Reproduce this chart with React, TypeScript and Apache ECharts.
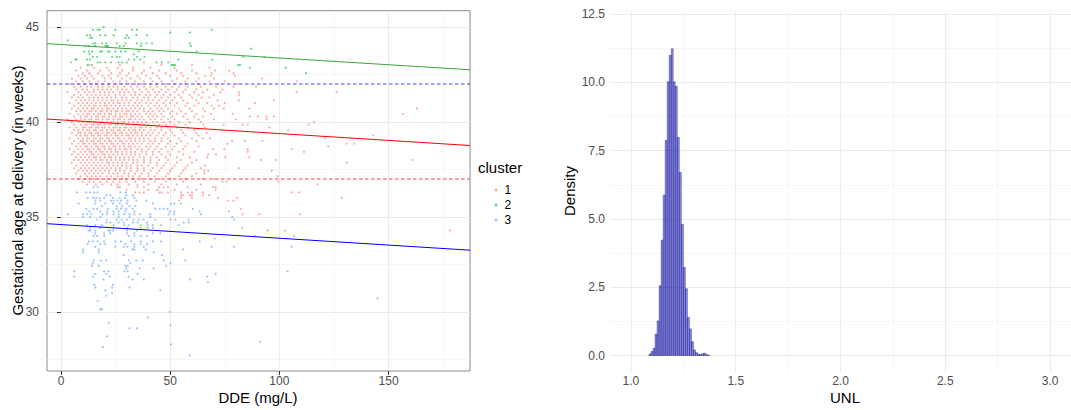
import React, { useEffect, useRef } from "react";
import * as echarts from "echarts";

const FONT = '"Liberation Sans", Arial, Helvetica, sans-serif';

// ---------- Left panel data: [gestational age (weeks), DDE values (mg/L)] ----------
const cluster1Rows: [number, number[]][] = [
  [43.14, [4.6, 38]],
  [43.0, [13, 27, 46, 60]],
  [42.86, [9, 15, 21, 26, 33, 41, 52, 68]],
  [42.71, [7, 12, 18, 22, 28, 33, 38, 45, 53, 60, 70.5, 77]],
  [42.57, [10, 13, 17, 23, 27, 31, 37, 42, 48, 55, 62, 69, 79]],
  [42.43, [8, 11, 14, 19, 22, 26, 30, 35, 39, 44, 50, 56, 66, 68.7, 79.7]],
  [42.29, [5, 9, 12, 15, 20, 23, 28, 32, 36, 41, 45, 53, 58, 63, 70, 92]],
  [42.14, [7, 10, 13, 17, 20, 24, 27, 30, 34, 38, 42, 46, 51, 57, 62, 68, 75, 108]],
  [42.0, [4, 8, 11, 14, 16, 19, 22, 25, 28, 31, 34, 37, 41, 44, 48, 52, 57, 63, 72, 81]],
  [41.86, [6, 9, 12, 14, 17, 19, 22, 24, 26, 29, 32, 35, 38, 41, 44, 48, 51, 54, 58, 64, 71, 79, 89.3]],
  [41.71, [7, 10, 12, 15, 17, 19, 21, 23, 26, 28, 30, 33, 36, 39, 42, 46, 49, 53, 57, 62, 67, 74]],
  [41.57, [3, 8, 11, 13, 15, 18, 20, 22, 24, 27, 29, 31, 34, 37, 40, 43, 45, 48, 52, 56, 61, 65, 73, 81.5, 107.9, 126.2]],
  [41.43, [6, 9, 12, 14, 16, 18, 20, 22, 25, 27, 29, 32, 34, 36, 39, 41, 44, 47, 50, 54, 59, 63, 70, 81.5]],
  [41.29, [5, 8, 10, 13, 15, 17, 19, 21, 23, 25, 28, 30, 33, 35, 38, 40, 43, 46, 49, 52, 55, 60, 64.4, 68]],
  [41.14, [7, 9, 11, 13, 15, 17, 19, 21, 23, 24, 26, 28, 30, 32, 35, 37, 40, 42, 45, 48, 51, 56, 62, 71.7, 81.5, 97.5]],
  [41.0, [4, 8, 10, 12, 14, 16, 18, 20, 22, 24, 26, 27, 29, 31, 34, 36, 39, 41, 44, 47, 50, 53, 58, 63, 67, 75, 88.8]],
  [40.86, [6, 9, 11, 13, 15, 16, 18, 20, 21, 23, 25, 27, 29, 31, 33, 35, 37, 40, 43, 45, 48, 52, 57, 61, 69, 72.3]],
  [40.71, [5, 8, 10, 12, 14, 15, 17, 19, 21, 22, 24, 26, 28, 30, 32, 34, 36, 38, 41, 44, 46, 49, 54, 59, 65, 70, 74.6, 86.2, 162.9]],
  [40.57, [7, 9, 11, 13, 14, 16, 18, 19, 21, 23, 25, 26, 28, 30, 31, 33, 35, 38, 40, 42, 45, 47, 51, 55, 60, 66]],
  [40.43, [4, 8, 10, 12, 13, 15, 17, 18, 20, 22, 23, 25, 27, 29, 30, 32, 34, 36, 39, 41, 43, 46, 50, 53, 57, 62, 68.7, 78.6, 156.6]],
  [40.29, [6, 9, 11, 12, 14, 16, 17, 19, 20, 22, 24, 25, 27, 28, 30, 32, 33, 35, 37, 40, 42, 44, 47, 51, 56, 61, 65, 86.5, 90.2, 94.2, 97.5]],
  [40.14, [3, 7, 9, 11, 13, 14, 16, 17, 19, 21, 22, 24, 26, 27, 29, 31, 32, 34, 36, 38, 41, 43, 46, 49, 52, 58, 63, 70, 80.1, 94.2]],
  [40.0, [5, 8, 10, 12, 13, 15, 16, 18, 19, 21, 23, 24, 26, 28, 29, 31, 33, 35, 37, 39, 42, 44, 47, 50, 54, 59, 64, 116]],
  [39.86, [6, 9, 11, 12, 14, 15, 17, 18, 20, 22, 23, 25, 26, 28, 30, 31, 33, 35, 36, 38, 40, 43, 45, 48, 52, 57, 65.2, 74.5, 83.2, 85.5, 113.4]],
  [39.71, [4, 7, 10, 11, 13, 14, 16, 17, 19, 20, 22, 24, 25, 27, 29, 30, 32, 34, 36, 37, 39, 41, 44, 46, 49, 53, 58, 66, 95.4]],
  [39.57, [6, 8, 10, 12, 13, 15, 16, 18, 19, 21, 23, 24, 26, 27, 29, 31, 33, 34, 36, 38, 41, 43, 46, 50, 55, 61, 104]],
  [39.43, [5, 8, 9, 11, 13, 14, 16, 17, 19, 21, 22, 24, 25, 27, 28, 30, 32, 34, 35, 37, 40, 42, 45, 48, 51, 56, 62, 66.7]],
  [39.29, [7, 9, 11, 12, 14, 15, 17, 18, 20, 21, 23, 25, 26, 28, 30, 31, 33, 35, 37, 39, 41, 44, 47, 52, 57, 63, 143]],
  [39.14, [4, 8, 10, 12, 13, 15, 16, 18, 19, 21, 22, 24, 26, 27, 29, 31, 32, 34, 36, 38, 40, 43, 46, 49, 54, 60, 64.9, 68.2, 120.9]],
  [39.0, [6, 9, 10, 12, 14, 15, 17, 18, 20, 22, 23, 25, 27, 28, 30, 32, 34, 36, 38, 41, 43, 46, 50, 55, 62, 78.3, 84.1, 92.2]],
  [38.86, [5, 8, 10, 11, 13, 15, 16, 18, 19, 21, 23, 24, 26, 28, 29, 31, 33, 35, 37, 40, 42, 45, 49, 53, 58, 76.3, 130.8, 134.2]],
  [38.71, [7, 9, 11, 12, 14, 16, 17, 19, 20, 22, 24, 25, 27, 29, 31, 32, 34, 36, 39, 41, 44, 48, 52, 57, 63, 122.4]],
  [38.57, [4, 8, 10, 12, 13, 15, 17, 18, 20, 22, 23, 25, 27, 29, 30, 32, 35, 37, 40, 43, 46, 51, 56, 69.7, 74.8, 85.5, 105.6]],
  [38.43, [6, 9, 11, 13, 14, 16, 18, 19, 21, 23, 25, 26, 28, 30, 32, 34, 37, 39, 42, 45, 49, 54, 61, 85.5, 111.3]],
  [38.29, [5, 8, 10, 12, 14, 15, 17, 19, 20, 22, 24, 26, 28, 30, 32, 34, 36, 39, 42, 46, 50, 56, 67.4, 71]],
  [38.14, [7, 9, 11, 13, 15, 16, 18, 20, 22, 23, 25, 27, 29, 31, 33, 36, 38, 41, 44, 48, 53, 59, 67, 75.2, 86.2]],
  [38.0, [6, 8, 10, 12, 14, 16, 18, 19, 21, 23, 25, 27, 29, 31, 33, 35, 38, 41, 45, 49, 55, 62, 91.6, 98.4, 161]],
  [37.86, [5, 9, 11, 13, 15, 17, 19, 21, 22, 24, 26, 28, 30, 33, 35, 38, 41, 44, 48, 53, 60, 130.8]],
  [37.71, [7, 10, 12, 14, 16, 18, 20, 22, 24, 26, 28, 30, 32, 35, 37, 40, 44, 47, 52, 58, 66]],
  [37.57, [6, 9, 11, 13, 15, 17, 19, 21, 23, 25, 27, 30, 32, 35, 38, 42, 46, 51, 57, 64, 81.5]],
  [37.43, [8, 10, 12, 14, 16, 18, 20, 22, 25, 27, 29, 32, 35, 38, 41, 45, 50, 56, 65.6, 67.4, 96.5]],
  [37.29, [7, 11, 13, 15, 17, 19, 22, 24, 26, 29, 31, 34, 37, 40, 44, 49, 55, 62, 65.6]],
  [37.14, [9, 12, 14, 16, 18, 21, 23, 26, 28, 31, 33, 36, 40, 43, 48, 54, 60, 99.2]],
  [37.0, [8, 11, 13, 15, 17, 20, 22, 25, 28, 30, 33, 37, 41, 45, 50, 57, 65, 70]],
  [36.86, [10, 13, 15, 18, 21, 24, 27, 30, 34, 38, 43, 48, 56, 74, 75.9, 99.5]],
  [36.71, [12, 16, 19, 23, 26, 31, 35, 40, 46, 53, 64, 117.5]],
  [36.57, [26, 27, 35, 38, 45, 47, 49, 58, 69.7, 70.8]],
  [36.43, [30, 40, 44, 52, 62, 70.8]],
  [36.29, [34, 36, 38, 45, 46, 49, 55, 58, 60, 65, 105.6, 109]],
  [36.14, [55, 56, 59, 60, 64.9, 67.9]],
  [36.0, [55, 60, 72, 80.7, 128.5]],
  [35.86, [54, 76.6, 78.9]],
  [35.43, [82.4]],
  [35.29, [76.9]],
  [35.14, [83.2, 90.8, 109.4]],
  [34.29, [178.1]],
];

const cluster2Rows: [number, number[]][] = [
  [45.0, [19.5]],
  [44.86, [14.7, 16.8, 17.7, 24.9, 32.5, 34.8, 69.0]],
  [44.71, [50, 59.1]],
  [44.57, [11.9, 13.4, 18.0, 20.3, 24.1, 30.2, 34.5, 39.4]],
  [44.43, [13.4, 14.2, 29.5, 31.0]],
  [44.29, [3.1]],
  [44.14, [14.9, 15.7, 18.8, 20.8, 25.6, 29.5, 34.8, 36.8, 39.1, 41.7, 59.1]],
  [44.0, [11.1, 12.7, 15.7, 20.3, 21.1, 21.4, 26.9, 28.7, 36.6, 59.5]],
  [43.86, [87.0]],
  [43.71, [10.7, 12.7, 14.2, 18.0, 18.8, 21.4, 22.3, 24.9, 27.5, 29.5, 35.6, 62.1]],
  [43.57, [13.1, 33.3]],
  [43.43, [14.6, 16.5, 23.4, 25.6, 26.9, 34.8, 38.2, 83.5, 93.1]],
  [43.29, [6.6, 7.1, 11.9, 13.4, 31.0, 33.6, 36.3, 53.7, 69.3]],
  [43.14, [16.8, 18.0, 20.3, 22.9, 26.4, 27.9, 30.2, 43.8, 46.1, 49.1]],
  [43.0, [12.2, 14.2, 50.8, 51.4, 52.2, 81.2, 82.0]],
  [42.86, [86.5, 102.9]],
  [42.57, [112.2]],
];

const cluster3Rows: [number, number[]][] = [
  [36.57, [14.9, 16.8]],
  [36.29, [7.3, 11.6, 13.4, 15.3, 16.8, 27.2, 29.6]],
  [36.14, [20.8, 22.6, 29.9, 32.9]],
  [36.0, [12.2, 14.9, 16.2, 17.7, 19.8, 23.8, 26.9, 29.3, 33.6]],
  [35.86, [15.7, 18.0, 22.9, 24.1, 25.9, 27.5, 30.5, 34.5, 39.1]],
  [35.71, [8.1, 15.7, 20.3, 23.8, 26.9, 30.2, 42.1, 50.4, 51.9, 54.9]],
  [35.57, [18.8, 25.6, 27.9, 31.4, 34.0]],
  [35.43, [11.6, 14.9, 16.5, 21.4, 25.6, 27.5, 29.9, 32.9, 43.2, 45.2, 47.0, 48.8, 60.4]],
  [35.29, [13.1, 18.0, 21.1, 24.1, 26.4, 29.5, 33.6, 49.8, 51.9, 63.5]],
  [35.14, [3.1, 10.1, 11.9, 13.9, 18.9, 21.1, 24.1, 26.4, 29.0, 31.4, 33.6, 36.3, 40.9, 49.3, 51.9, 64.1]],
  [35.0, [10.1, 13.4, 18.0, 26.4, 31.4, 40.9, 78.4]],
  [34.86, [16.5, 21.1, 25.6, 27.9, 30.2, 33.3, 35.6, 37.9, 43.2, 50.1, 52.4, 58.5, 79.2]],
  [34.71, [20.8, 22.6, 26.4, 28.7, 32.9, 35.1, 39.4, 56.2, 58.5]],
  [34.57, [11.9, 15.7, 18.8, 24.1, 29.0, 31.0, 36.6, 39.7, 42.1, 45.8, 53.9]],
  [34.43, [13.4, 18.0, 24.1, 30.2, 36.6, 39.7, 42.1, 83.0]],
  [34.29, [12.7, 13.4, 15.7, 21.8, 22.6, 23.8, 30.2, 34.8, 94.6, 102.6]],
  [34.14, [15.7, 19.8, 22.6, 30.2, 33.6, 42.1, 45.5]],
  [34.0, [14.9, 16.5, 19.8, 31.0, 33.6, 36.6, 39.4, 88.8, 106.8]],
  [33.86, [70.4]],
  [33.71, [12.7, 14.6, 16.8, 19.8, 24.9, 27.5, 32.1, 36.6, 42.1, 45.8, 63.5]],
  [33.57, [12.2, 18.0, 20.3, 29.5, 33.6, 36.6, 39.4]],
  [33.43, [15.7, 24.9, 28.7, 30.5, 33.6, 37.9, 69.0, 79.2, 105.6]],
  [33.29, [10.1, 17.3, 32.8, 33.6, 38.8, 55.9]],
  [33.14, [10.1, 17.3, 42.4]],
  [33.0, [28.7, 46.2]],
  [32.71, [14.9, 18.3, 20.8, 31.0, 34.5, 37.5, 47.0, 56.9]],
  [32.57, [14.6, 31.8, 50.1]],
  [32.43, [14.2, 17.3, 29.5, 30.5, 48.2]],
  [32.29, [29.9, 36.0, 42.4]],
  [32.14, [6.1, 19.8, 21.8, 29.0, 30.5, 103.8]],
  [32.0, [15.7, 20.8, 35.1, 70.8]],
  [31.86, [6.1, 14.6, 22.3, 31.0, 67.0]],
  [31.71, [19.5, 32.9, 37.9, 59.2]],
  [31.57, [67.3]],
  [31.43, [15.3, 23.8]],
  [31.29, [15.7, 23.4, 31.4]],
  [31.14, [20.3, 45.5]],
  [31.0, [23.4]],
  [30.86, [20.8]],
  [30.71, [145.0]],
  [30.57, [16.8]],
  [30.14, [18.0, 18.8]],
  [30.0, [49.8]],
  [29.71, [39.7]],
  [29.43, [21.8]],
  [29.29, [50.1]],
  [29.14, [31.4, 34.8]],
  [28.71, [21.1]],
  [28.43, [91.3]],
  [28.29, [50.4]],
  [28.14, [19.2]],
  [27.71, [58.9]],
];

const clusterNames = ["1", "2", "3"];
const clusterColors = ["#F8766D", "#00BA38", "#619CFF"];
// fitted regression lines per cluster: intercept, slope
const fitIntercepts = [40.11, 44.08, 34.6];
const fitSlopes = [-0.0072, -0.0071, -0.0072];
const fitColors = ["#FF0000", "#3AA53A", "#0000FF"];
// horizontal dashed reference lines
const refLevels = [42, 37];
const refColors = ["rgba(0,0,255,0.5)", "rgba(255,0,0,0.5)"];

const leftXTicks = [0, 50, 100, 150];
const leftXMinor = [25, 75, 125, 175];
const leftYTicks = [30, 35, 40, 45];
const leftYMinor = [27.5, 32.5, 37.5, 42.5];

// ---------- Right panel: UNL histogram (density) ----------
const unlBinStart = 1.0858;
const unlBinWidth = 0.00967;
const unlDensity = [
  0.06, 0.15, 0.27, 0.79, 1.27, 2.56, 4.23, 5.87, 7.88, 10.02,
  10.99, 11.23, 10.02, 9.86, 7.98, 6.7, 4.8, 3.23, 2.45, 1.4,
  0.98, 0.51, 0.21, 0.11, 0.06, 0.04, 0.07, 0.09, 0.04, 0.02,
];
const rightXTicks = [1.0, 1.5, 2.0, 2.5, 3.0];
const rightXMinor = [1.25, 1.75, 2.25, 2.75];
const rightYTicks = [0, 2.5, 5, 7.5, 10, 12.5];
const rightYMinor = [1.25, 3.75, 6.25, 8.75, 11.25];

const L_XMIN = -6.4, L_XMAX = 187.3, L_YMIN = 26.89, L_YMAX = 45.86;
const R_XMIN = 0.9, R_XMAX = 3.1, R_YMIN = -0.6, R_YMAX = 12.6;

function flatten(rows: [number, number[]][]) {
  const out: number[][] = [];
  rows.forEach(([y, xs]) => xs.forEach((x) => out.push([x, y])));
  return out;
}

function gridMarkLines(xMaj: number[], xMin: number[], yMaj: number[], yMin: number[]) {
  const maj = { color: "#EBEBEB", width: 1.1, type: "solid" as const };
  const min = { color: "#F2F2F2", width: 0.7, type: "solid" as const };
  return {
    silent: true,
    z: 0,
    zlevel: 0,
    symbol: ["none", "none"],
    label: { show: false },
    emphasis: { disabled: true },
    animation: false,
    data: [
      ...xMin.map((v) => ({ xAxis: v, lineStyle: min })),
      ...yMin.map((v) => ({ yAxis: v, lineStyle: min })),
      ...xMaj.map((v) => ({ xAxis: v, lineStyle: maj })),
      ...yMaj.map((v) => ({ yAxis: v, lineStyle: maj })),
    ],
  };
}

export default function App() {
  const ref = useRef<HTMLDivElement>(null);

  useEffect(() => {
    if (!ref.current) return;
    const chart = echarts.init(ref.current, undefined, { renderer: "svg" });

    const labelStyle = { color: "#4D4D4D", fontSize: 12, fontFamily: FONT };
    const clusterData = [cluster1Rows, cluster2Rows, cluster3Rows].map(flatten);

    const series: any[] = [
      {
        type: "line",
        name: "gridL",
        xAxisIndex: 0,
        yAxisIndex: 0,
        data: [],
        z: 0,
        markLine: gridMarkLines(leftXTicks, leftXMinor, leftYTicks, leftYMinor),
      },
      {
        type: "line",
        name: "gridR",
        xAxisIndex: 1,
        yAxisIndex: 1,
        data: [],
        z: 0,
        markLine: gridMarkLines(rightXTicks, rightXMinor, rightYTicks, rightYMinor),
      },
    ];

    clusterNames.forEach((name, i) => {
      series.push({
        type: "scatter",
        name,
        xAxisIndex: 0,
        yAxisIndex: 0,
        data: clusterData[i],
        symbol: "circle",
        symbolSize: 2.2,
        itemStyle: { color: clusterColors[i], opacity: 0.6 },
        z: 2,
        silent: true,
      });
    });

    refLevels.forEach((lv, i) => {
      series.push({
        type: "line",
        name: "ref" + i,
        xAxisIndex: 0,
        yAxisIndex: 0,
        data: [
          [L_XMIN, lv],
          [L_XMAX, lv],
        ],
        symbol: "none",
        lineStyle: { color: refColors[i], width: 1.3, type: [3.5, 2.5] },
        z: 3,
        silent: true,
      });
    });

    fitIntercepts.forEach((a, i) => {
      series.push({
        type: "line",
        name: "fit" + i,
        xAxisIndex: 0,
        yAxisIndex: 0,
        data: [
          [L_XMIN, a + fitSlopes[i] * L_XMIN],
          [L_XMAX, a + fitSlopes[i] * L_XMAX],
        ],
        symbol: "none",
        lineStyle: { color: fitColors[i], width: 1 },
        z: 4,
        silent: true,
      });
    });

    series.push({
      type: "custom",
      name: "UNL",
      xAxisIndex: 1,
      yAxisIndex: 1,
      z: 10,
      silent: true,
      encode: { x: [0, 1], y: 2 },
      data: unlDensity.map((d, i) => [
        unlBinStart + i * unlBinWidth,
        unlBinStart + (i + 1) * unlBinWidth,
        d,
      ]),
      renderItem: (params: any, api: any) => {
        const p0 = api.coord([api.value(0), api.value(2)]);
        const p1 = api.coord([api.value(1), 0]);
        return {
          type: "rect",
          shape: { x: p0[0], y: p0[1], width: p1[0] - p0[0], height: p1[1] - p0[1] },
          style: { fill: "rgba(0,0,255,0.48)", stroke: "rgba(0,0,0,0.85)", lineWidth: 0.35 },
        };
      },
    });

    const option: any = {
      animation: false,
      backgroundColor: "#FFFFFF",
      grid: [
        {
          left: 47,
          top: 10.7,
          width: 423,
          height: 360.3,
          show: true,
          borderColor: "#8A8A8A",
          borderWidth: 1,
          backgroundColor: "transparent",
        },
        { left: 610, top: 11.3, width: 469, height: 360.7, show: false },
      ],
      xAxis: [
        {
          type: "value",
          gridIndex: 0,
          min: L_XMIN,
          max: L_XMAX,
          axisLine: { show: false },
          axisTick: { show: true, customValues: leftXTicks, length: 4, lineStyle: { color: "#333333" } },
          axisLabel: { ...labelStyle, customValues: leftXTicks, margin: 4 },
          splitLine: { show: false },
        },
        {
          type: "value",
          gridIndex: 1,
          min: R_XMIN,
          max: R_XMAX,
          axisLine: { show: false },
          axisTick: { show: false },
          axisLabel: {
            ...labelStyle,
            customValues: rightXTicks,
            margin: 3,
            formatter: (v: number) => v.toFixed(1),
          },
          splitLine: { show: false },
        },
      ],
      yAxis: [
        {
          type: "value",
          gridIndex: 0,
          min: L_YMIN,
          max: L_YMAX,
          axisLine: { show: false },
          axisTick: { show: true, customValues: leftYTicks, length: 4, lineStyle: { color: "#333333" } },
          axisLabel: { ...labelStyle, customValues: leftYTicks, margin: 8 },
          splitLine: { show: false },
        },
        {
          type: "value",
          gridIndex: 1,
          min: R_YMIN,
          max: R_YMAX,
          axisLine: { show: false },
          axisTick: { show: false },
          axisLabel: {
            ...labelStyle,
            customValues: rightYTicks,
            margin: 5,
            formatter: (v: number) => v.toFixed(1),
          },
          splitLine: { show: false },
        },
      ],
      legend: {
        data: clusterNames,
        orient: "vertical",
        left: 489.5,
        top: 177.5,
        itemWidth: 3,
        itemHeight: 3,
        itemGap: 0,
        icon: "circle",
        selectedMode: false,
        textStyle: {
          fontSize: 12,
          color: "#000000",
          fontFamily: FONT,
          lineHeight: 15,
          padding: [0, 0, 0, 2],
        },
      },
      graphic: [
        {
          type: "text",
          x: 17,
          y: 190.5,
          rotation: Math.PI / 2,
          style: {
            text: "Gestational age at delivery (in weeks)",
            fontSize: 15,
            fontFamily: FONT,
            fill: "#000000",
            align: "center",
            verticalAlign: "middle",
          },
        },
        {
          type: "text",
          x: 258,
          y: 397.5,
          style: {
            text: "DDE (mg/L)",
            fontSize: 15,
            fontFamily: FONT,
            fill: "#000000",
            align: "center",
            verticalAlign: "middle",
          },
        },
        {
          type: "text",
          x: 478,
          y: 167,
          style: {
            text: "cluster",
            fontSize: 15,
            fontFamily: FONT,
            fill: "#000000",
            align: "left",
            verticalAlign: "middle",
          },
        },
        {
          type: "text",
          x: 569,
          y: 191,
          rotation: Math.PI / 2,
          style: {
            text: "Density",
            fontSize: 15,
            fontFamily: FONT,
            fill: "#000000",
            align: "center",
            verticalAlign: "middle",
          },
        },
        {
          type: "text",
          x: 845,
          y: 397.5,
          style: {
            text: "UNL",
            fontSize: 15,
            fontFamily: FONT,
            fill: "#000000",
            align: "center",
            verticalAlign: "middle",
          },
        },
      ],
      series,
    };

    chart.setOption(option);
    return () => chart.dispose();
  }, []);

  return (
    <div
      ref={ref}
      style={{ position: "fixed", left: 0, top: 0, width: 1071, height: 410, background: "#FFFFFF" }}
    />
  );
}
